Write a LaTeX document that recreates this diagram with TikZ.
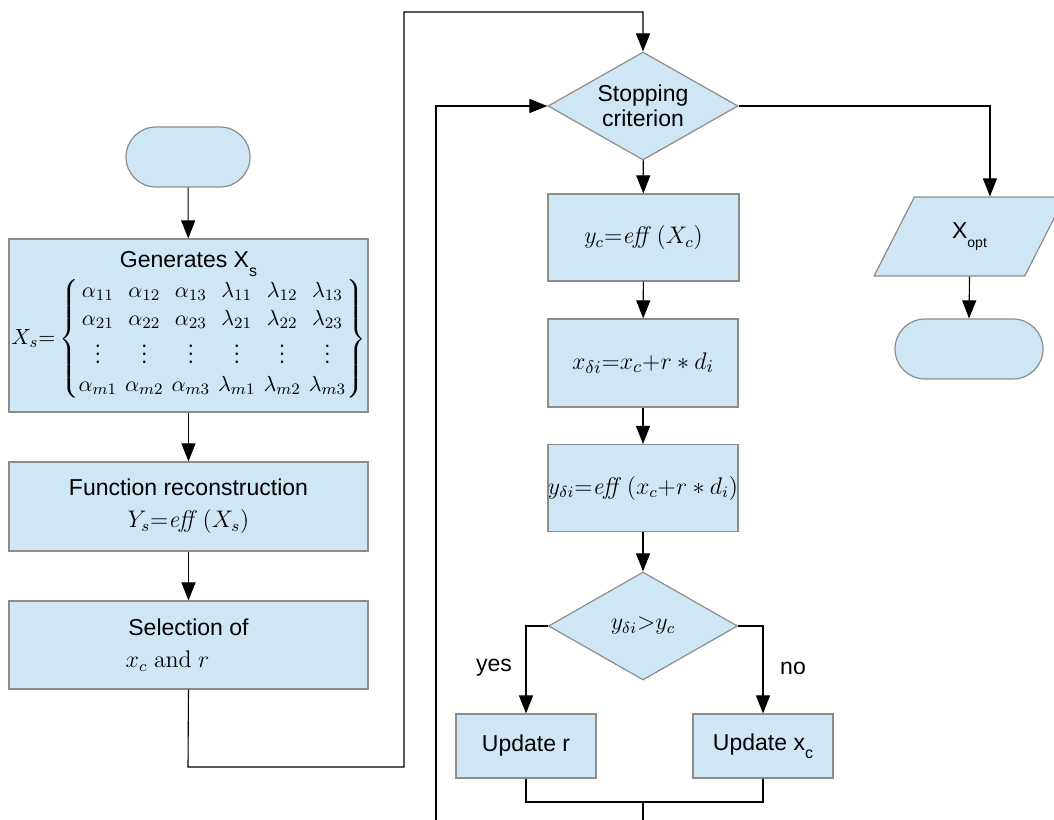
\documentclass[tikz,border=0pt]{standalone}
\usepackage{amsmath}
\usepackage[no-math]{fontspec}
\setmainfont{Liberation Sans}
\usetikzlibrary{shapes.geometric,arrows.meta}
\definecolor{boxfill}{HTML}{CFE7F5}
\definecolor{boxline}{HTML}{8C8C8C}
\begin{document}
\begin{tikzpicture}[x=0.5pt,y=-0.5pt,
  box/.style={draw=boxline, fill=boxfill, line width=0.6pt, inner sep=0pt, align=center},
  term/.style={box, rounded corners=15pt},
  dia/.style={box, diamond, aspect=1.76},
  conn/.style={line width=0.55pt, draw=black},
  arr/.style={conn, -{Triangle[length=9pt,width=7pt]}},
  txt/.style={font=\fontsize{11.5}{13}\selectfont},
  mth/.style={font=\fontsize{11.5}{14}\selectfont}
  ]
\clip (0,0) rectangle (1054,819);
\useasboundingbox (0,0) rectangle (1054,819);

% left column
\node[term, minimum width=62pt, minimum height=30pt] (start) at (188,157) {};
\node[box, minimum width=179.5pt, minimum height=86.5pt] (gen) at (188.5,325.5)
 {{\fontsize{11.5}{13}\selectfont Generates X\raisebox{-0.7ex}{\footnotesize s}}\\[0pt]
  {\fontsize{10.8}{13.8}\selectfont\setlength{\arraycolsep}{2pt}$X_s{=}\left\{\begin{matrix}
  \alpha_{11} & \alpha_{12} & \alpha_{13} & \lambda_{11} & \lambda_{12} & \lambda_{13}\\
  \alpha_{21} & \alpha_{22} & \alpha_{23} & \lambda_{21} & \lambda_{22} & \lambda_{23}\\
  \vdots & \vdots & \vdots & \vdots & \vdots & \vdots\\
  \alpha_{m1} & \alpha_{m2} & \alpha_{m3} & \lambda_{m1} & \lambda_{m2} & \lambda_{m3}
  \end{matrix}\right\}$}};
\node[box, minimum width=179.5pt, minimum height=44.5pt] (func) at (188.5,506.5)
 {{\fontsize{11.5}{13}\selectfont Function reconstruction}\\[4pt]
  {\fontsize{11.5}{14}\selectfont $Y_s{=}\mathit{eff}\,(X_s)$}};
\node[box, minimum width=179.5pt, minimum height=44pt] (sel) at (188.5,645)
 {{\fontsize{11.5}{13}\selectfont Selection of}\\[4pt]
  {\fontsize{11.5}{14}\selectfont \hspace*{-21pt}$x_c\ \mathrm{and}\ r$}};

% middle column
\node[dia, minimum width=95pt, minimum height=54pt, font=\fontsize{11.5}{12.5}\selectfont] (stop) at (643,106) {Stopping\\criterion};
\node[box, minimum width=95.5pt, minimum height=43.5pt, mth] (yc) at (643.5,237.5) {$y_c{=}\mathit{eff}\,(X_c)$};
\node[box, minimum width=95pt, minimum height=44pt, font=\fontsize{12.5}{14}\selectfont] (xd) at (643,363) {$x_{\delta i}{=}x_c{+}r*d_i$};
\node[box, minimum width=95pt, minimum height=43.5pt, mth] (yd) at (643,488) {$y_{\delta i}{=}\mathit{eff}\,(x_c{+}r*d_i)$};
\node[dia, minimum width=94.5pt, minimum height=54pt, mth] (cond) at (643,626) {$y_{\delta i}{>}y_c$};
\node[box, minimum width=70pt, minimum height=32pt, txt] (updr) at (526,746) {Update r};
\node[box, minimum width=70pt, minimum height=32pt, txt] (updx) at (763,746) {Update x\raisebox{-0.7ex}{\footnotesize c}};
\node[txt] (yes) at (494,668) {yes};
\node[txt] (no) at (793,668) {no};

% right column
\node[box, trapezium, trapezium left angle=65, trapezium right angle=115, trapezium stretches=true,
  minimum width=95.5pt, minimum height=39.5pt, txt] (out) at (969.5,236.5)
  {X\raisebox{-0.7ex}{\scriptsize opt}};
\node[term, minimum width=74pt, minimum height=30pt] (end) at (969,349) {};

% connectors
\draw[arr] (start) -- (gen);
\draw[arr] (gen) -- (func);
\draw[arr] (func) -- (sel);
\coordinate (c1) at (188,767);
\coordinate (c2) at (404,767);
\coordinate (c3) at (404,12);
\coordinate (c4) at (643,12);
\draw[arr] (sel.south) -- (c1) -- (c2) -- (c3) -- (c4) -- (stop.north);
\draw[arr] (stop) -- (yc);
\draw[arr] (yc) -- (xd);
\draw[arr] (xd) -- (yd);
\draw[arr] (yd) -- (cond);
\draw[arr] (cond.west) -| (updr.north);
\draw[arr] (cond.east) -| (updx.north);
\coordinate (mj) at (643,802);
\coordinate (mb) at (643,830);
\draw[conn] (updr.south) |- (mj) -- (mb);
\draw[conn] (updx.south) |- (mj);
\coordinate (lb) at (436,830);
\draw[arr] (lb) |- (stop.west);
\draw[arr] (stop.east) -| (out.top side);
\draw[arr] (out.south) -- (end.north);
\end{tikzpicture}
\end{document}
